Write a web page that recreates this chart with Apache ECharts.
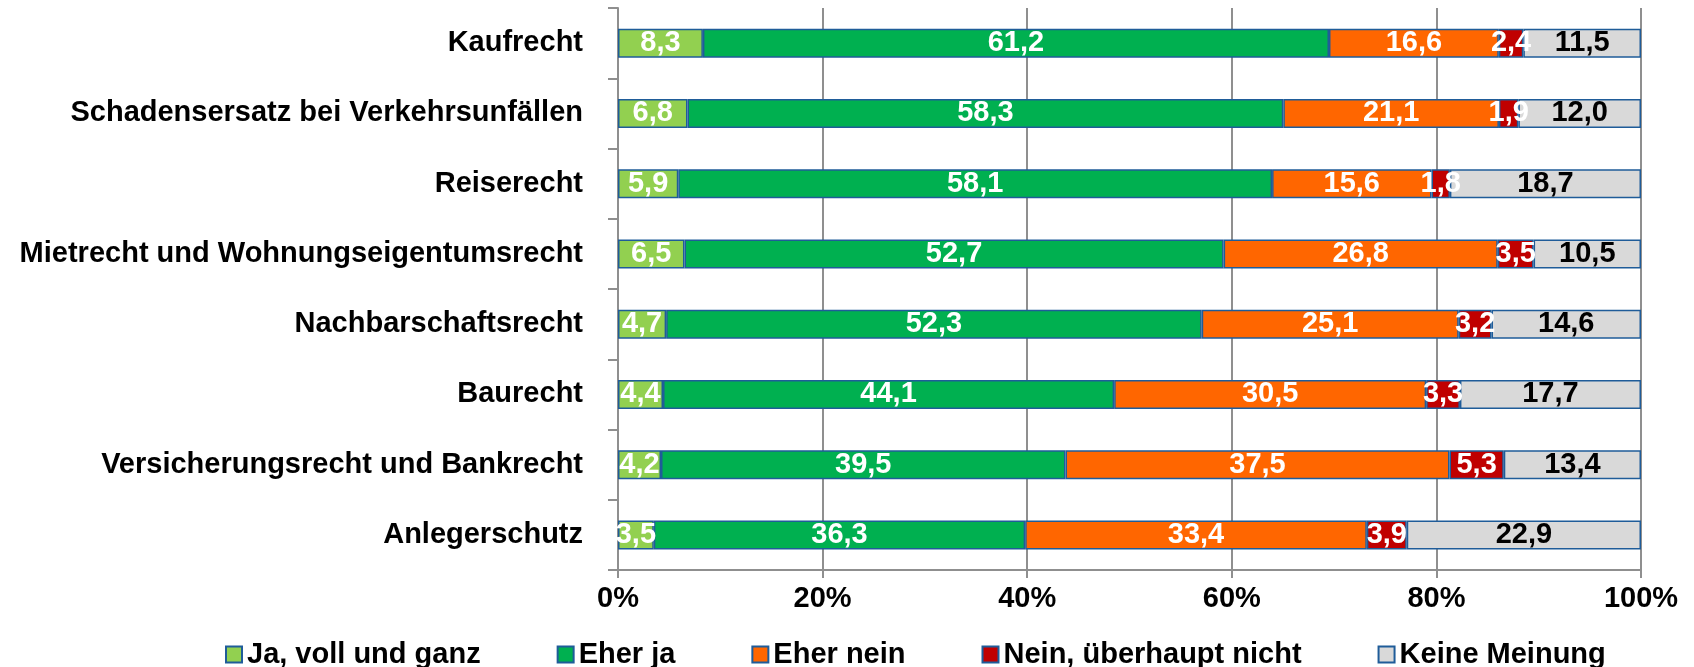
<!DOCTYPE html>
<html>
<head>
<meta charset="utf-8">
<script src="https://cdn.jsdelivr.net/npm/echarts@6/dist/echarts.min.js"></script>
<style>
html,body{margin:0;padding:0;background:#fff;}
#chart{width:1694px;height:667px;}
</style>
</head>
<body>
<div id="chart"></div>
<script>
const categories = [
  'Kaufrecht',
  'Schadensersatz bei Verkehrsunfällen',
  'Reiserecht',
  'Mietrecht und Wohnungseigentumsrecht',
  'Nachbarschaftsrecht',
  'Baurecht',
  'Versicherungsrecht und Bankrecht',
  'Anlegerschutz'
];
const seriesNames = ['Ja, voll und ganz', 'Eher ja', 'Eher nein', 'Nein, überhaupt nicht', 'Keine Meinung'];
const jaVoll      = [8.3, 6.8, 5.9, 6.5, 4.7, 4.4, 4.2, 3.5];
const eherJa      = [61.2, 58.3, 58.1, 52.7, 52.3, 44.1, 39.5, 36.3];
const eherNein    = [16.6, 21.1, 15.6, 26.8, 25.1, 30.5, 37.5, 33.4];
const neinGar     = [2.4, 1.9, 1.8, 3.5, 3.2, 3.3, 5.3, 3.9];
const keineMein   = [11.5, 12.0, 18.7, 10.5, 14.6, 17.7, 13.4, 22.9];
const tickValues  = [0, 20, 40, 60, 80, 100];

const seriesData = [jaVoll, eherJa, eherNein, neinGar, keineMein];
const colors = ['#92d050', '#00b050', '#ff6600', '#c00000', '#d9d9d9'];
const labelColors = ['#ffffff', '#ffffff', '#ffffff', '#ffffff', '#000000'];
const FONT = "'Liberation Sans', Arial, sans-serif";
const FS = 29;

// 100% stacked: normalise each row to its total (like Excel)
const totals = categories.map((_, i) => seriesData.reduce((s, arr) => s + arr[i], 0));

const chart = echarts.init(document.getElementById('chart'), null, {renderer: 'canvas'});
chart.setOption({
  animation: false,
  backgroundColor: '#ffffff',
  textStyle: {fontFamily: FONT},
  grid: {left: 618, right: 53, top: 8, bottom: 97, containLabel: false},
  legend: {
    left: 220,
    top: 635,
    itemWidth: 16,
    itemHeight: 16,
    itemGap: 76,
    icon: 'rect',
    textStyle: {fontFamily: FONT, fontSize: FS, fontWeight: 'bold', color: '#000'},
    data: seriesNames
  },
  xAxis: {
    type: 'value',
    min: 0,
    max: 100,
    interval: 20,
    axisLine: {show: true, lineStyle: {color: '#8f8f8f', width: 2}},
    axisTick: {show: true, length: 8, lineStyle: {color: '#8f8f8f', width: 2}},
    axisLabel: {
      margin: 14,
      fontFamily: FONT, fontSize: FS, fontWeight: 'bold', color: '#000',
      formatter: v => tickValues.includes(v) ? v + '%' : ''
    },
    splitLine: {show: true, lineStyle: {color: '#8f8f8f', width: 2}}
  },
  yAxis: {
    type: 'category',
    inverse: true,
    data: categories,
    axisLine: {show: true, lineStyle: {color: '#8f8f8f', width: 2}},
    axisTick: {show: true, length: 10, alignWithLabel: false, lineStyle: {color: '#8f8f8f', width: 2}},
    axisLabel: {margin: 35, fontFamily: FONT, fontSize: FS, fontWeight: 'bold', color: '#000'}
  },
  series: seriesNames.map((name, k) => ({
    name: name,
    type: 'bar',
    stack: 'total',
    barWidth: 29,
    itemStyle: {color: colors[k], borderColor: '#1f5c99', borderWidth: 1.5},
    label: {
      show: true,
      position: 'inside',
      fontFamily: FONT,
      fontSize: FS,
      fontWeight: 'bold',
      color: labelColors[k],
      textBorderWidth: 0,
      formatter: p => p.data.raw.toFixed(1).replace('.', ',')
    },
    data: seriesData[k].map((v, i) => ({value: v / totals[i] * 100, raw: v}))
  }))
});
</script>
</body>
</html>
